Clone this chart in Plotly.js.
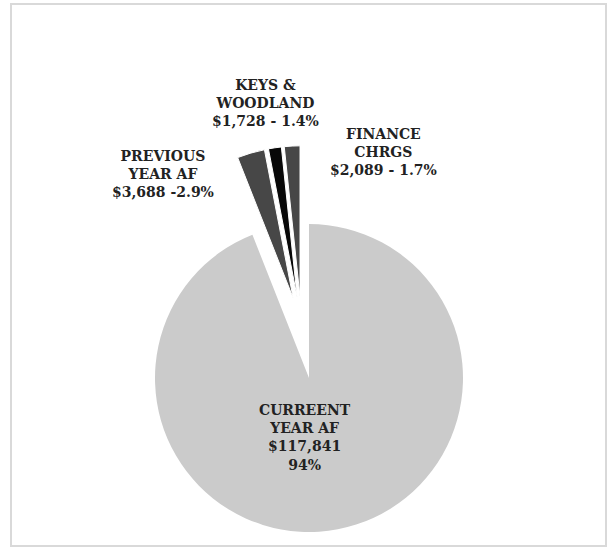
<!DOCTYPE html>
<html>
<head>
<meta charset="utf-8">
<script src="https://cdn.plot.ly/plotly-3.0.1.min.js"></script>
<style>html,body{margin:0;padding:0;background:#fff;}#chart{width:609px;height:548px;}</style>
</head>
<body>
<div id="chart"></div>
<script>
// ---- data ----
var categories = ["CURREENT YEAR AF", "PREVIOUS YEAR AF", "KEYS & WOODLAND", "FINANCE CHRGS"];
var values = [117841, 3688, 1728, 2089];
var labelTexts = [
  "CURREENT<br>YEAR AF<br>$117,841<br>94%",
  "PREVIOUS<br>YEAR AF<br>$3,688 -2.9%",
  "KEYS &<br>WOODLAND<br>$1,728 - 1.4%",
  "FINANCE<br>CHRGS<br>$2,089 - 1.7%"
];
var sliceColors = ["#cbcbcb", "#474747", "#080808", "#474747"];
var smallPull = [0, 0.2, 0.2, 0.2];

// ---- layout helpers (pixel -> paper) ----
var W = 609, H = 548;
function px(x) { return x / W; }
function py(y) { return 1 - y / H; }
function dom(cx, cy, half) {
  return {x: [px(cx - half), px(cx + half)], y: [py(cy + half), py(cy - half)]};
}

var transparent = "rgba(0,0,0,0)";
// main (unpulled) slice
var traceMain = {
  type: "pie", values: values, labels: categories, sort: false,
  direction: "clockwise", rotation: 0, textinfo: "none", hoverinfo: "none",
  showlegend: false,
  marker: {colors: sliceColors.map(function(c, i){ return i === 0 ? c : transparent; }),
           line: {width: 0}},
  domain: dom(309, 378, 154)
};
// small exploded slices
var traceSmall = {
  type: "pie", values: values, labels: categories, sort: false,
  direction: "clockwise", rotation: 0, textinfo: "none", hoverinfo: "none",
  showlegend: false, pull: smallPull,
  marker: {colors: sliceColors.map(function(c, i){ return i === 0 ? transparent : c; }),
           line: {width: [0, 1, 1, 1], color: [transparent, "#ffffff", "#ffffff", "#ffffff"]}},
  domain: dom(301.6, 327, 151 * 1.2)
};

var labelPos = [[305, 437], [163, 174], [265, 103], [383, 152]];
var annotations = labelTexts.map(function(t, i){
  return {text: t, xref: "paper", yref: "paper", x: px(labelPos[i][0]), y: py(labelPos[i][1]),
          xanchor: "center", yanchor: "middle", showarrow: false, align: "center",
          font: {family: "DejaVu Serif", size: 14, color: "#222222", weight: "bold"}};
});

var layout = {
  width: W, height: H, margin: {l: 0, r: 0, t: 0, b: 0},
  paper_bgcolor: "#ffffff", plot_bgcolor: "#ffffff",
  annotations: annotations,
  shapes: [{type: "rect", xref: "paper", yref: "paper",
            x0: px(11), x1: px(606), y0: py(546), y1: py(4),
            line: {color: "#d9d9d9", width: 2}, fillcolor: transparent}]
};

Plotly.newPlot("chart", [traceMain, traceSmall], layout, {displayModeBar: false, staticPlot: true});
</script>
</body>
</html>
